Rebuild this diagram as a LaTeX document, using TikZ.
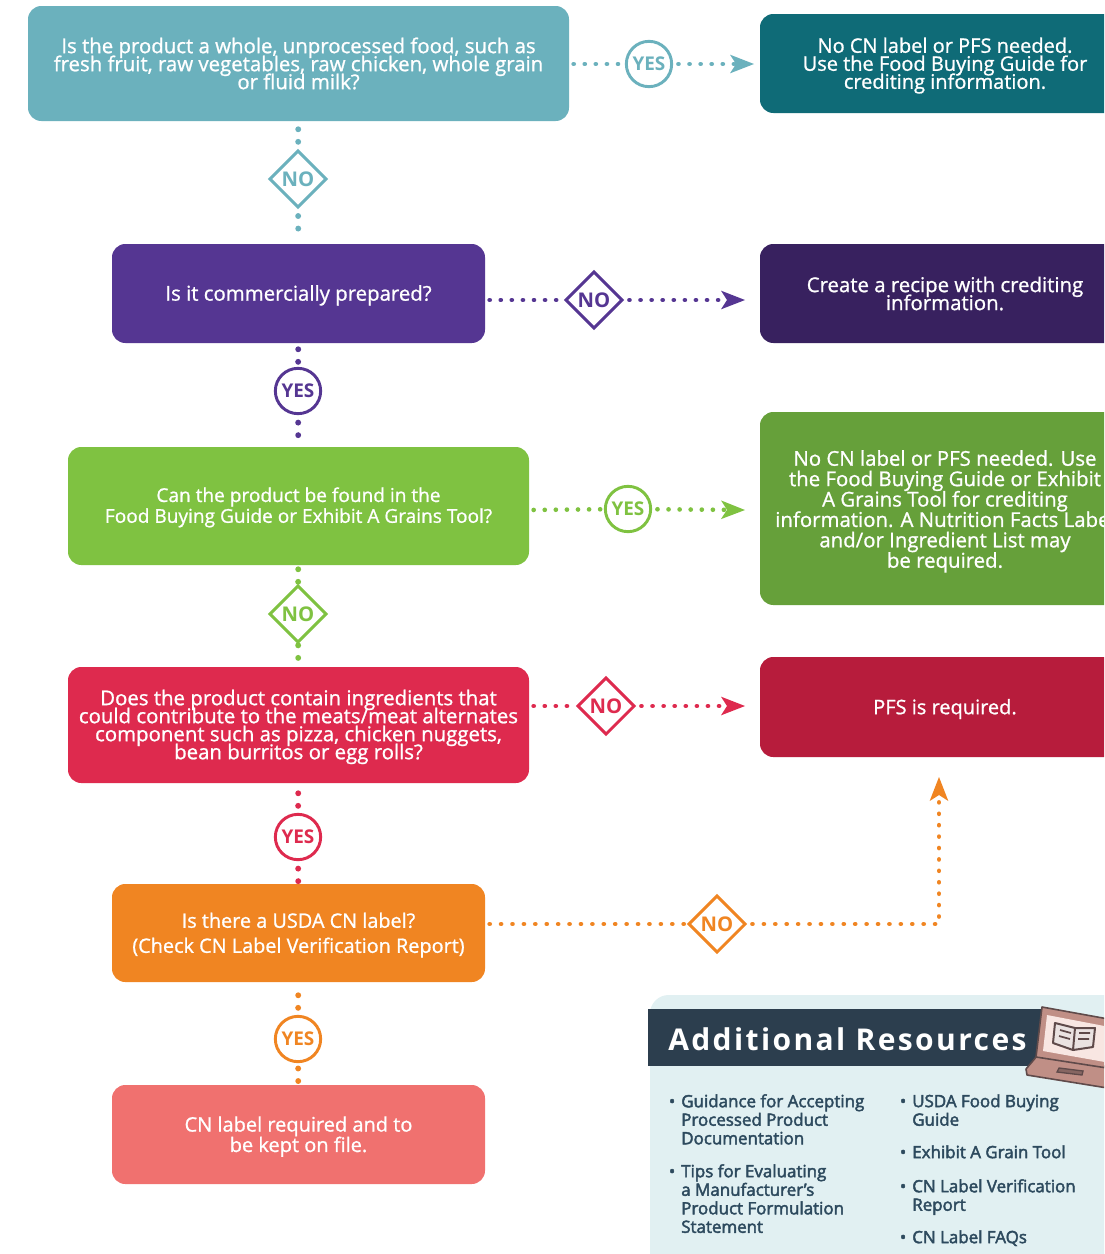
\documentclass[tikz,border=0pt]{standalone}
\usepackage{fontspec}
\setmainfont{Open Sans}
\newfontfamily\osmed[FakeBold=1]{Open Sans}
\newfontfamily\osres[FakeBold=2.5]{Open Sans}
\newfontfamily\titlefont[LetterSpace=8]{Open Sans}
\usetikzlibrary{arrows.meta,shapes.geometric,calc}
\definecolor{teal1}{HTML}{6BB1BD}\definecolor{teal2}{HTML}{0F6B77}
\definecolor{pur1}{HTML}{553692}\definecolor{pur2}{HTML}{38215F}
\definecolor{grn1}{HTML}{7FC241}\definecolor{grn2}{HTML}{66A03A}
\definecolor{red1}{HTML}{DE2A4E}\definecolor{red2}{HTML}{B71C3C}
\definecolor{org1}{HTML}{F08522}\definecolor{sal1}{HTML}{F0716F}
\definecolor{panel}{HTML}{E1F0F2}\definecolor{banner}{HTML}{2C3E4E}
\definecolor{restext}{HTML}{2D4A5E}\definecolor{lapt}{HTML}{C08F86}
\definecolor{lapd}{HTML}{5F4A4A}\definecolor{lapl}{HTML}{F8E6E2}
\newcommand{\bodyfont}[2]{\fontsize{#1}{#2}\osmed\lineskiplimit=-100pt\relax}
\newcommand{\resfont}{\fontsize{12.7}{13.9}\osres\lineskiplimit=-100pt\relax}
\newcommand{\bul}{\llap{•\hspace{4.5pt}}}
\newcommand{\tp}[1]{\rule{0pt}{#1pt}}
\tikzset{
  x=0.75pt,y=-0.75pt,
  flowbox/.style={rounded corners=10pt,inner sep=0pt,text=white,align=center,anchor=center},
  lead18/.style={font=\bodyfont{15.3}{13.5}},
  lead18b/.style={font=\bodyfont{15}{13.5}},
  lead20/.style={font=\bodyfont{15.3}{15.3}},
  lead20b/.style={font=\bodyfont{15}{15.3}},
  lead21/.style={font=\bodyfont{14.3}{15.6}},
  lead25/.style={font=\bodyfont{14.9}{18.8}},
  yesmark/.style={circle,draw=#1,fill=white,line width=2.2pt,minimum size=34pt,inner sep=0pt,text=#1,font=\fontsize{14.2}{15}\bfseries},
  nomark/.style={diamond,aspect=1,draw=#1,fill=white,line width=2.2pt,minimum size=43pt,inner sep=0pt,text=#1,font=\fontsize{15.2}{16}\bfseries},
  vdots/.style={draw=#1,line width=4.4pt,line cap=round,dash pattern=on 0.01pt off 9.4pt,shorten >=1pt},
  hdots/.style={draw=#1,line width=3.5pt,line cap=round,dash pattern=on 0.01pt off 8.3pt,shorten <=3.5pt,shorten >=0pt},
  hlast/.style={draw=#1,line width=3.5pt,line cap=round,dash pattern=on 0.01pt off 8.3pt,shorten <=4pt,
    -{Stealth[length=18pt,width=14pt,inset=4.5pt,line width=0pt,fill=#1,color=#1]}},
  restxt/.style={anchor=north west,inner sep=0pt,align=left,text=restext,font=\resfont},
}
\newcommand{\pxbox}[7]{%
  \pgfmathsetmacro{\bw}{(#4-#2)*0.75}\pgfmathsetmacro{\bh}{(#5-#3)*0.75}%
  \node[flowbox,fill=#6,minimum width=\bw pt,minimum height=\bh pt,#7] at ({(#2+#4)/2},{(#3+#5)/2}) (#1)}
\begin{document}
\begin{tikzpicture}
\useasboundingbox (0,0) rectangle (1104,1254);
\clip (0,0) rectangle (1104,1254);
\fill[white] (0,0) rectangle (1104,1254);

% question boxes
\pxbox{q1}{28}{6}{569}{121}{teal1}{lead18}{Is the product a whole, unprocessed food, such as\\fresh fruit, raw vegetables, raw chicken, whole grain\\or fluid milk?};
\pxbox{q2}{112}{244}{485}{343}{pur1}{lead18}{\tp{14.4}Is it commercially prepared?};
\pxbox{q3}{68}{447}{529}{565}{grn1}{lead21}{\tp{13}Can the product be found in the\\Food Buying Guide or Exhibit A Grains Tool?};
\pxbox{q4}{68}{667}{529}{783}{red1}{lead18}{\tp{14.5}Does the product contain ingredients that\\could contribute to the meats/meat alternates\\component such as pizza, chicken nuggets,\\bean burritos or egg rolls?};
\pxbox{q5}{112}{884}{485}{982}{org1}{lead25}{\tp{14.5}Is there a USDA CN label?\\(Check CN Label Verification Report)};
\pxbox{q6}{112}{1085}{485}{1184}{sal1}{lead20b}{\tp{14.5}CN label required and to\\be kept on file.};
% answer boxes
\pxbox{a1}{760}{14}{1130}{113}{teal2}{lead18b}{\tp{14.5}No CN label or PFS needed.\\Use the Food Buying Guide for\\crediting information.};
\pxbox{a2}{760}{244}{1130}{343}{pur2}{lead18}{Create a recipe with crediting\\information.};
\pxbox{a3}{760}{412}{1130}{605}{grn2}{lead20}{\tp{16}No CN label or PFS needed. Use\\the Food Buying Guide or Exhibit\\A Grains Tool for crediting\\information. A Nutrition Facts Label\\and/or Ingredient List may\\be required.};
\pxbox{a4}{760}{657}{1130}{757}{red2}{lead18b}{\tp{14.4}PFS is required.};

% decision marks
\node[yesmark=teal1] (y1) at (649,64) {YES};
\node[nomark=teal1] (n1) at (298,179) {NO};
\node[nomark=pur1] (n2) at (594,300) {NO};
\node[yesmark=pur1] (y2) at (298,391) {YES};
\node[yesmark=grn1] (y3) at (628,509) {YES};
\node[nomark=grn1] (n3) at (298,614) {NO};
\node[nomark=red1] (n4) at (606,706) {NO};
\node[yesmark=red1] (y4) at (298,837) {YES};
\node[nomark=org1] (n5) at (717,924) {NO};
\node[yesmark=org1] (y5) at (298,1039) {YES};

% free ends
\coordinate (q1r) at (569,64);
\coordinate (t1) at (754,64);
\coordinate (q2r) at (485,300);
\coordinate (t2) at (745,300);
\coordinate (q3r) at (529,510);
\coordinate (t3) at (745,510);
\coordinate (q4r) at (529,706);
\coordinate (t4) at (745,706);
\coordinate (q5r) at (485,924);
\coordinate (bend) at (939,924);
\coordinate (t5) at (939,777);

% vertical connectors
\draw[vdots=teal1,shorten <=6pt] (q1) -- (n1);
\draw[vdots=teal1,shorten <=5.25pt,shorten >=5pt] (n1) -- (q2);
\draw[vdots=pur1,shorten <=4.5pt] (q2) -- (y2);
\draw[vdots=pur1,shorten <=5.6pt] (y2) -- (q3);
\draw[vdots=grn1,shorten <=3pt] (q3) -- (n3);
\draw[vdots=grn1,shorten <=1pt] (n3) -- (q4);
\draw[vdots=red1,shorten <=7.5pt] (q4) -- (y4);
\draw[vdots=red1,shorten <=5.6pt] (y4) -- (q5);
\draw[vdots=org1,shorten <=9.75pt] (q5) -- (y5);
\draw[vdots=org1,shorten <=4pt] (y5) -- (q6);
% horizontal connectors
\draw[hdots=teal1] (q1r) -- (y1);
\draw[hlast=teal1] (y1) -- (t1);
\draw[hdots=pur1] (q2r) -- (n2);
\draw[hlast=pur1] (n2) -- (t2);
\draw[hdots=grn1] (q3r) -- (y3);
\draw[hlast=grn1] (y3) -- (t3);
\draw[hdots=red1] (q4r) -- (n4);
\draw[hlast=red1] (n4) -- (t4);
\draw[hdots=org1,dash pattern=on 0.01pt off 8.55pt] (q5r) -- (n5);
\draw[hlast=org1,dash pattern=on 0.01pt off 8.55pt] (n5) -- (bend) -- (t5);

% resources panel
\fill[panel,rounded corners=14pt] (650,995) rectangle (1180,1300);
\fill[banner] (648,1009) rectangle (1046,1066);
\node[anchor=west,inner sep=0pt,text=white,font=\fontsize{22.5}{24}\titlefont\bfseries] (restitle) at (668,1039) {Additional Resources};

% laptop
\draw[lapd,fill=lapt,line width=1.2pt,line join=round] (1037,1056) -- (1026,1069) -- (1027,1075) -- (1120,1090) -- (1120,1068) -- cycle;
\draw[lapd,fill=lapd!60!lapt,line width=1pt] (1059,1068) -- (1083,1071) -- (1082,1075) -- (1057,1072) -- cycle;
\draw[lapd,fill=lapt,line width=1.2pt,line join=round] (1042,1007) -- (1125,1022) -- (1120,1070) -- (1036,1057) -- cycle;
\fill[lapl] (1047,1015) -- (1120,1029) -- (1116,1064) -- (1043,1051) -- cycle;
\draw[lapd,fill=lapl!70!lapd!40,line width=1.5pt,line join=round] (1055,1023) -- (1075,1028) -- (1073,1050) -- (1053,1043) -- cycle
  (1075,1028) -- (1095,1028) -- (1093,1047) -- (1073,1050) -- cycle;
\draw[lapd,line width=1.3pt] (1060,1030) -- (1071,1033) (1059,1036) -- (1070,1039) (1079,1033) -- (1090,1033) (1078,1039) -- (1089,1039);

% resource lists
\node[restxt] (r1) at (681,1094) {\bul Guidance for Accepting\\Processed Product\\Documentation};
\node[restxt] (r2) at (681,1164) {\bul Tips for Evaluating\\a Manufacturer’s\\Product Formulation\\Statement};
\node[restxt] (r3) at (912,1094) {\bul USDA Food Buying\\Guide};
\node[restxt] (r4) at (912,1145) {\bul Exhibit A Grain Tool};
\node[restxt] (r5) at (912,1179) {\bul CN Label Verification\\Report};
\node[restxt] (r6) at (912,1230) {\bul CN Label FAQs};
\end{tikzpicture}
\end{document}
